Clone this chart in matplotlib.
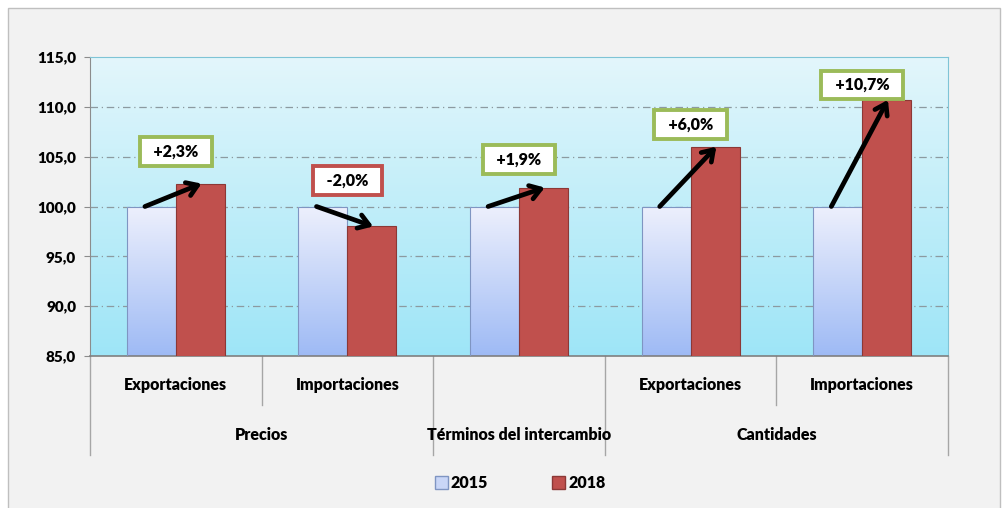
import numpy as np
import matplotlib
matplotlib.use("Agg")
import matplotlib.pyplot as plt
from matplotlib.patches import Rectangle, Patch
from matplotlib.lines import Line2D

plt.rcParams['font.family'] = ['Lato', 'DejaVu Sans']
plt.rcParams['font.weight'] = 'heavy'

# data
groups = ['Precios', 'Términos del intercambio', 'Cantidades']
group_span = [(0, 1), (2, 2), (3, 4)]
sub_labels = ['Exportaciones', 'Importaciones', '', 'Exportaciones', 'Importaciones']
v2015 = [100.0, 100.0, 100.0, 100.0, 100.0]
v2018 = [102.3, 98.0, 101.9, 106.0, 110.7]
changes = ['+2,3%', '-2,0%', '+1,9%', '+6,0%', '+10,7%']
label_y = [105.5, 102.6, 104.7, 108.2, 112.2]

fig = plt.figure(figsize=(10.04, 5.08), dpi=100)
fig.patch.set_facecolor('white')
fig.patches.append(Rectangle((8 / 1004, -0.01), 992 / 1004, 1 - 8 / 508 + 0.01,
                             transform=fig.transFigure, facecolor='#f2f2f2',
                             edgecolor='#bfbfbf', lw=1, zorder=-10))

ax = fig.add_axes([90 / 1004, 152 / 508, 858 / 1004, 299 / 508])

# plot area gradient
grad = np.linspace(0, 1, 256).reshape(-1, 1)
top = np.array([0.89, 0.965, 0.985])
bot = np.array([0.62, 0.90, 0.97])
img = top * (1 - grad[..., None]) + bot * grad[..., None]
ax.imshow(img, extent=[-0.5, 4.5, 85, 115], aspect='auto', zorder=0, origin='upper')

for y in [90, 95, 100, 105, 110]:
    ax.axhline(y, color='#8c9aa0', lw=0.9, ls=(0, (6, 3, 1, 3)), zorder=1)

x = np.arange(len(v2015))
w = 0.285
bars15 = ax.bar(x - w / 2, [v - 85 for v in v2015], w, bottom=85, facecolor='none',
                edgecolor='#7f95c2', lw=0.8, zorder=3)
ax.bar(x + w / 2, [v - 85 for v in v2018], w, bottom=85, color='#c0504d',
       edgecolor='#8c3836', lw=0.8, zorder=3)

btop = np.array([0.93, 0.94, 0.99])
bbot = np.array([0.62, 0.73, 0.96])
bimg = btop * (1 - grad[..., None]) + bbot * grad[..., None]
for b in bars15:
    im = ax.imshow(bimg, extent=[b.get_x(), b.get_x() + b.get_width(), 85, b.get_y() + b.get_height()],
                   aspect='auto', zorder=2, origin='upper')
    im.set_clip_path(b)
ax.set_xlim(-0.5, 4.5)
ax.set_ylim(85, 115)

# arrows and change boxes
for i in range(len(v2018)):
    ax.annotate('', xy=(i + 0.15, v2018[i]), xytext=(i - 0.18, v2015[i]),
                arrowprops=dict(arrowstyle='->,head_length=0.75,head_width=0.5',
                                lw=3.4, color='black', shrinkA=0, shrinkB=0), zorder=5)
    ec = '#9bbb59' if v2018[i] >= v2015[i] else '#c0504d'
    ax.text(i, label_y[i], '  ' + changes[i] + '  ', ha='center', va='center', fontsize=11.5, zorder=6,
            bbox=dict(boxstyle='square,pad=0.4', facecolor='white', edgecolor=ec, lw=2.8))

ax.set_yticks([85, 90, 95, 100, 105, 110, 115])
ax.set_yticklabels([f'{v:.1f}'.replace('.', ',') for v in [85, 90, 95, 100, 105, 110, 115]],
                   fontsize=11)
ax.tick_params(axis='y', length=4, color='#8c8c8c', pad=6)
ax.set_xticks([])
for s in ['top', 'right']:
    ax.spines[s].set_color('#7fc4d6')
ax.spines['left'].set_color('#8c8c8c')
ax.spines['bottom'].set_color('#7f7f7f')
ax.spines['bottom'].set_linewidth(1.2)

# multi-level category axis
tr = ax.get_xaxis_transform()
lvl1 = -0.165
lvl2 = -0.33
bounds = [-0.5, 0.5, 1.5, 2.5, 3.5, 4.5]
full = {-0.5, 1.5, 2.5, 4.5}
for bx in bounds:
    y1 = lvl2 if bx in full else lvl1
    ax.add_line(Line2D([bx, bx], [0, y1], transform=tr, color='#a6a6a6', lw=1, clip_on=False))
for i, lab in enumerate(sub_labels):
    if lab:
        ax.text(i, -0.097, lab, transform=tr, ha='center', va='center', fontsize=11.5)
for g, (a, b) in zip(groups, group_span):
    ax.text((a + b) / 2, -0.264, g, transform=tr, ha='center', va='center', fontsize=11.5)

handles = [Patch(facecolor='#c9d6f7', edgecolor='#7f95c2', label='2015'),
           Patch(facecolor='#c0504d', edgecolor='#8c3836', label='2018')]
fig.legend(handles=handles, loc='center', bbox_to_anchor=(0.518, 0.049), ncol=2, frameon=False,
           fontsize=11.5, handlelength=0.8, handleheight=0.8, handletextpad=0.2, columnspacing=4.0)

fig.savefig('out.png', dpi=100)
